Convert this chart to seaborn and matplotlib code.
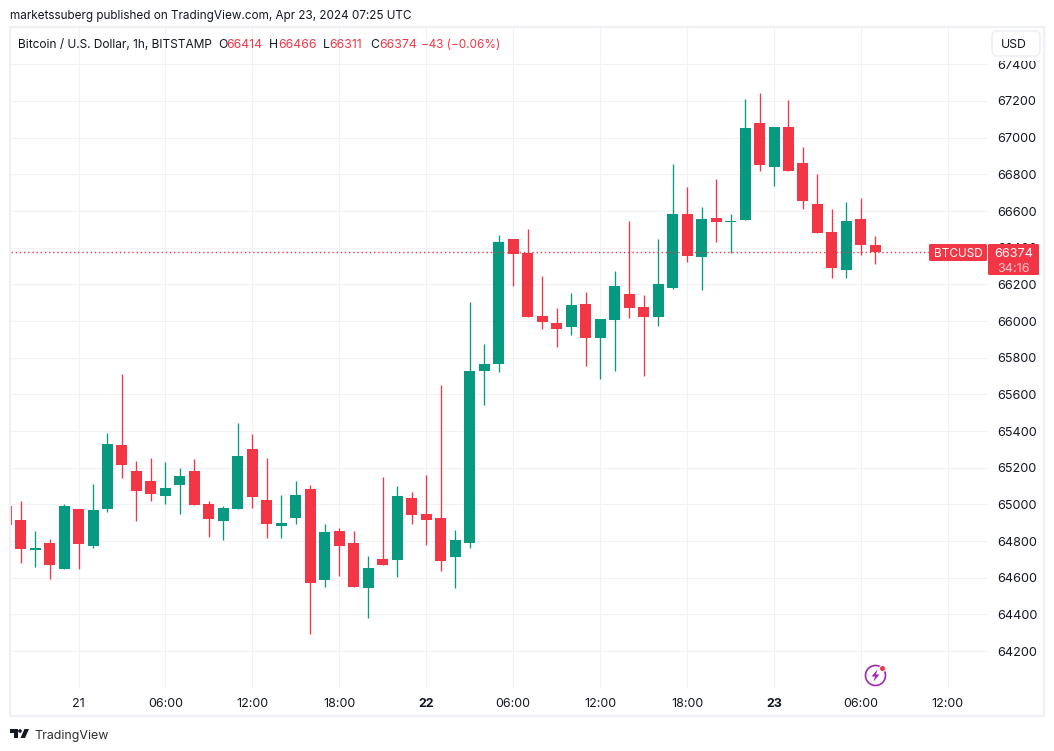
import numpy as np
import pandas as pd
import matplotlib
matplotlib.use('Agg')
import matplotlib.pyplot as plt
from matplotlib.patches import Rectangle, FancyBboxPatch, Polygon, Circle, Arc
from matplotlib.transforms import Affine2D
import seaborn as sns

# hourly candles, hour 0 = Apr 21 00:00
hours = list(range(-5, 56))
opens = [64991, 64915, 64750, 64790, 64648, 64975, 64773, 64975, 65324, 65182, 65128, 65046, 65106,
         65182, 65002, 64909, 64975, 65302, 65024, 64882, 64926, 65084, 64588, 64855, 64790, 64544,
         64702, 64697, 65035, 64948, 64926, 64713, 64790, 65728, 65766, 66447, 66371, 66027, 65989,
         65967, 66093, 65907, 66006, 66147, 66076, 66022, 66180, 66584, 66349, 66562, 66538, 66551,
         67080, 66840, 67058, 66862, 66638, 66486, 66278, 66556, 66414]
highs = [64991, 65019, 64855, 64811, 65002, 64975, 65111, 65389, 65711, 65237, 65253, 65231, 65199,
         65248, 65019, 64991, 65444, 65384, 65253, 65051, 65128, 65106, 64893, 64871, 64855, 64719,
         65149, 65100, 65068, 65160, 65651, 64860, 66104, 65875, 66469, 66447, 66502, 66246, 66071,
         66153, 66158, 66011, 66273, 66545, 66142, 66447, 66856, 66731, 66622, 66774, 66584, 67211,
         67243, 67058, 67205, 66949, 66802, 66611, 66649, 66671, 66466]
lows = [64888, 64680, 64659, 64593, 64648, 64648, 64762, 64959, 65144, 64909, 65019, 65002, 64948,
        64997, 64822, 64806, 64975, 64980, 64817, 64817, 64893, 64293, 64550, 64610, 64550, 64380,
        64670, 64604, 64893, 64779, 64637, 64544, 64762, 65542, 65722, 66191, 66022, 65957, 65858,
        65924, 65755, 65684, 65728, 66017, 65700, 65973, 66175, 66322, 66169, 66431, 66371, 66551,
        66818, 66736, 66818, 66611, 66480, 66235, 66235, 66360, 66311]
closes = [64888, 64757, 64760, 64670, 64991, 64784, 64970, 65329, 65215, 65073, 65057, 65089, 65155,
          64997, 64920, 64980, 65264, 65040, 64893, 64899, 65051, 64571, 64849, 64773, 64550, 64653,
          64670, 65046, 64942, 64915, 64691, 64806, 65728, 65766, 66431, 66366, 66022, 65995, 65957,
          66087, 65907, 66011, 66191, 66071, 66022, 66202, 66584, 66355, 66556, 66540, 66544, 67053,
          66851, 67058, 66818, 66655, 66480, 66289, 66545, 66415, 66374]

price_ticks = list(range(64200, 67600, 200))
time_ticks = [0, 6, 12, 18, 24, 30, 36, 42, 48, 54, 60]
time_labels = ['21', '06:00', '12:00', '18:00', '22', '06:00', '12:00', '18:00', '23', '06:00', '12:00']
bold_labels = ['22', '23']

GREEN = '#089981'
RED = '#F23645'
GRID = '#F1F2F6'
BORDER = '#EFF0F6'
INK = '#131722'

W, H = 1054, 751

sns.set_theme(style='white')
plt.rcParams['font.family'] = ['Inter', 'DejaVu Sans']
fig = plt.figure(figsize=(W / 100, H / 100), dpi=100, facecolor='white')
ax = fig.add_axes([11 / W, (H - 688) / H, 976 / W, 660 / H])
# lets the decoration below be placed in reference pixels, y down
px = Affine2D().scale(1 / W, -1 / H).translate(0, 1) + fig.transFigure

df = pd.DataFrame({'hour': hours, 'open': opens, 'high': highs, 'low': lows, 'close': closes})
df['top'] = df[['open', 'close']].max(axis=1)
df['bottom'] = df[['open', 'close']].min(axis=1)
df['height'] = df['top'] - df['bottom']
up = df[df['close'] >= df['open']]
down = df[df['close'] < df['open']]

for part, col in [(up, GREEN), (down, RED)]:
    ax.vlines(part['hour'], part['low'], part['high'], color=col, lw=0.95, zorder=3)
    sns.barplot(data=part, x='hour', y='height', bottom=part['bottom'].values, native_scale=True,
                color=col, saturation=1, width=0.76, errorbar=None, linewidth=0, ax=ax, zorder=4)

ax.axhline(closes[-1], color=RED, lw=1, ls=(0, (1, 2)), zorder=5)

ax.set_xlim(-4.66, 62.7)
ax.set_ylim(63999, 67598)
ax.set_xlabel('')
ax.set_ylabel('')
ax.set_xticks(time_ticks)
ax.set_xticklabels(time_labels)
ax.set_yticks(price_ticks)
ax.yaxis.tick_right()
ax.tick_params(axis='x', length=0, pad=7, labelsize=9, labelcolor=INK)
ax.tick_params(axis='y', length=0, pad=7.2, labelsize=9.1, labelcolor=INK)
for lab in ax.get_xticklabels():
    if lab.get_text() in bold_labels:
        lab.set_fontweight('bold')
ax.grid(True, color=GRID, lw=0.75)
ax.set_axisbelow(True)
sns.despine(ax=ax, left=True, bottom=True, right=True, top=True)


def add_box(x0, y0, x1, y1, face, edge='none', lw=0, round_px=1.5, z=6):
    fig.add_artist(FancyBboxPatch((x0, y0), x1 - x0, y1 - y0, boxstyle=f'round,pad=0,rounding_size={round_px}',
                                  fc=face, ec=edge, lw=lw, transform=px, zorder=z))


def add_text(x, y, s, color=INK, size=9, ha='left', z=8):
    fig.text(x, y, s, color=color, fontsize=size, ha=ha, va='center_baseline', transform=px, zorder=z)


# frame
fig.add_artist(Rectangle((10, 27), 1034, 689, fc='none', ec=BORDER, lw=1.6, transform=px, zorder=7))

# header and OHLC line
add_text(10, 15, 'marketssuberg published on TradingView.com, Apr 23, 2024 07:25 UTC', size=8.45)
add_text(18, 43, 'Bitcoin / U.S. Dollar, 1h, BITSTAMP', size=8.55)
for x, s, col in [(218, 'O', INK), (226, '66414', RED), (269, 'H', INK), (278, '66466', RED),
                  (323, 'L', INK), (329, '66311', RED), (370, 'C', INK), (379, '66374', RED)]:
    add_text(x, 43, s, color=col, size=8.8)
add_text(421, 43, '\u221243 (\u22120.06%)', color=RED, size=8.45)

# currency button, it hides the top of the 67400 label
fig.add_artist(Rectangle((988, 29), 55, 31.5, fc='white', ec='none', transform=px, zorder=6))
add_box(992, 31, 1040, 56, 'white', BORDER, 1.2, 5, 7)
add_text(1014, 43.5, 'USD', ha='center', size=8.8)

# last price labels
add_box(929, 244, 987, 261, RED)
add_box(988, 244, 1039, 275, RED)
add_text(958, 252.5, 'BTCUSD', color='white', ha='center', size=8.5)
add_text(1014, 252.5, '66374', color='white', ha='center', size=9.1)
add_text(1014, 267, '34:16', color='#FBC4CA', ha='center', size=9.1)

# TradingView logo
LOGO = '#131722'
fig.add_artist(Polygon([(10, 729), (17.5, 729), (17.5, 738), (13.5, 738), (13.5, 732.5), (10, 732.5)],
                       fc=LOGO, ec='none', transform=px, zorder=8))
fig.add_artist(Circle((20, 731), 1.8, fc=LOGO, ec='none', transform=px, zorder=8))
fig.add_artist(Polygon([(24.5, 729), (29, 729), (25, 738), (20.5, 738)], fc=LOGO, ec='none', transform=px, zorder=8))
add_text(34, 734, 'TradingView', color='#2E2E2E', size=8.95)

# bolt badge
PURPLE = '#9C27B0'
fig.add_artist(Arc((875.5, 675.5), 20, 20, theta1=0, theta2=360, ec=PURPLE, lw=1.2, transform=px, zorder=8))
fig.add_artist(Polygon([(877.5, 669.5), (871.5, 676.5), (875, 676.5), (873.5, 681.5), (879.5, 674.5), (876, 674.5)],
                       fc=PURPLE, ec='none', transform=px, zorder=8))
fig.add_artist(Circle((882.5, 668.5), 3.6, fc='white', ec='none', transform=px, zorder=8))
fig.add_artist(Circle((882.5, 668.5), 2.5, fc=RED, ec='none', transform=px, zorder=9))

fig.savefig('out.png', dpi=100, facecolor='white')
